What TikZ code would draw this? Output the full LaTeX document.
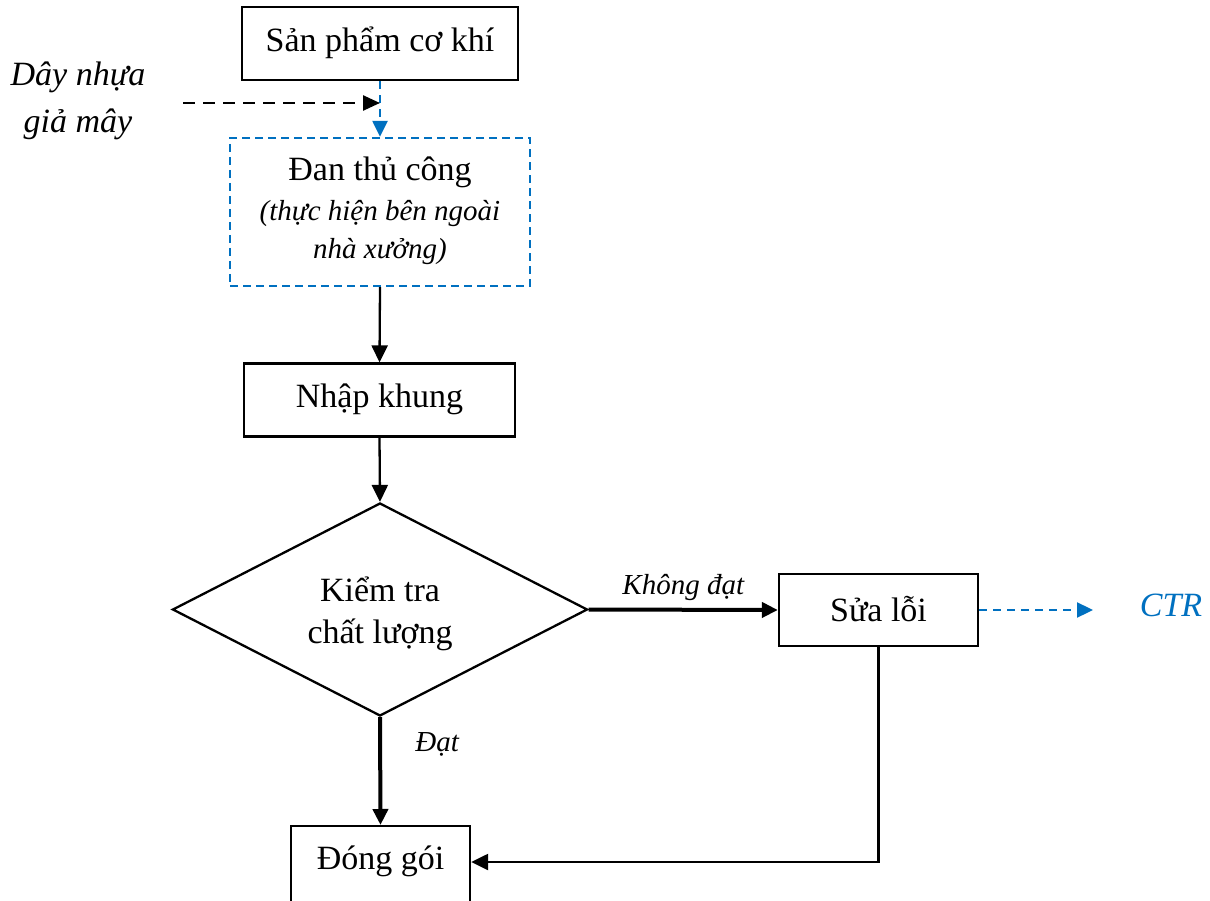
\documentclass[tikz,border=0pt]{standalone}
\usepackage{fontspec}
\setmainfont{Liberation Serif}
\usetikzlibrary{shapes.geometric,arrows.meta,calc}
\definecolor{wordblue}{HTML}{0070C0}
\begin{document}
\begin{tikzpicture}[x=1pt,y=-1pt,
  big/.style={font=\fontsize{34}{44}\selectfont},
  small/.style={font=\itshape\fontsize{29}{38}\selectfont},
  box/.style={draw, line width=2.3pt, inner sep=0pt, big},
  flow/.style={line width=2.3pt, -{Triangle[length=17pt,width=16pt]}},
  heavy/.style={line width=4pt, -{Triangle[length=16pt,width=15pt]}},
  blueflow/.style={draw=wordblue, line width=2.3pt, dash pattern=on 8pt off 6pt,
    -{Triangle[length=16pt,width=15pt,fill=wordblue]}},
  blackdash/.style={line width=2.5pt, dash pattern=on 12pt off 8pt,
    -{Triangle[length=17pt,width=15pt]}}]
\useasboundingbox (0,0) rectangle (1210,901);
\clip (0,0) rectangle (1210,901);

% process boxes
\node[box, minimum width=276pt, minimum height=73pt] (sp) at (380,43.5) {};
\node[big, anchor=base] (sptxt) at (380,52) {Sản phẩm cơ khí};

\node[box, draw=wordblue, dash pattern=on 8pt off 5pt,
  minimum width=300pt, minimum height=148pt] (dan) at (380,212) {};
\node[big, anchor=base] (dantxt) at (380,181) {Đan thủ công};
\node[small, anchor=base] (dannote1) at (380,221) {(thực hiện bên ngoài};
\node[small, anchor=base] (dannote2) at (380,259) {nhà xưởng)};

\node[box, minimum width=271pt, minimum height=73pt] (nk) at (379.5,400) {};
\node[big, anchor=base] (nktxt) at (379.5,407) {Nhập khung};

\node[draw, diamond, line width=2.3pt, inner sep=0pt, minimum width=415pt,
  minimum height=213pt] (kt) at (380,609.5) {};
\node[big, anchor=base] (kt1) at (380,601) {Kiểm tra};
\node[big, anchor=base] (kt2) at (380,643) {chất lượng};

\node[box, minimum width=199pt, minimum height=72pt] (sua) at (878.5,610) {};
\node[big, anchor=base] (suatxt) at (878.5,621) {Sửa lỗi};

\node[box, minimum width=179pt, minimum height=100pt, anchor=north] (dong) at (380.5,825) {};
\node[big, anchor=base] (dongtxt) at (380.5,869) {Đóng gói};

% side inputs and outputs
\node[font=\itshape\fontsize{34}{44}\selectfont, anchor=base] (day1) at (78,86) {Dây nhựa};
\node[font=\itshape\fontsize{34}{44}\selectfont, anchor=base] (day2) at (78,133) {giả mây};
\coordinate (dayend) at (183,103);
\coordinate (feed) at (380,103);
\node[font=\itshape\fontsize{34}{44}\selectfont, text=wordblue, anchor=base] (ctr) at (1171,616) {CTR};
\coordinate (ctrin) at (1093,610);

% connectors
\draw[blueflow] (sp.south) -- (dan.north);
\draw[blackdash] (dayend) -- (feed);
\draw[flow] (dan.south) -- (nk.north);
\draw[flow] (nk.south) -- (kt.north);
\draw[heavy] (kt.east) -- node[small, above=4pt] {Không đạt} (sua.west);
\draw[heavy] (kt.south) -- node[small, right=30pt, pos=0.25] {Đạt} (dong.north);
\draw[flow] (sua.south) |- ($(dong.north east)+(0,37)$);
\draw[blueflow] (sua.east) -- (ctrin);
\end{tikzpicture}
\end{document}
